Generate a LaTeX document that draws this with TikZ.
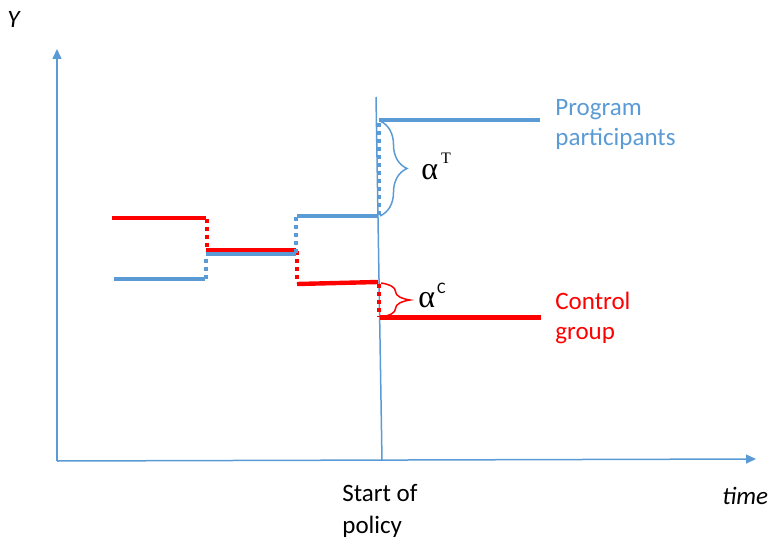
\documentclass[tikz,border=0pt]{standalone}
\usepackage{fontspec}
\setmainfont{Carlito}
\newfontfamily\grk{Liberation Serif}
\usetikzlibrary{arrows.meta,decorations.pathreplacing}
\definecolor{progblue}{HTML}{5B9BD5}
\definecolor{ctrlred}{HTML}{FF0000}

\begin{document}
\begin{tikzpicture}[x=0.5pt, y=-0.5pt,
  lbl/.style={inner sep=0pt, font=\fontsize{12.5}{15}\selectfont},
  itlbl/.style={inner sep=0pt, font=\fontsize{12.5}{15}\selectfont\itshape},
  alab/.style={inner sep=0pt, anchor=base west, font=\grk\fontsize{16}{18}\selectfont},
  axis/.style={draw=progblue, line width=0.75pt, -{Triangle[length=5pt,width=4.5pt]}},
  prog/.style={draw=progblue, line width=2pt},
  ctrl/.style={draw=ctrlred, line width=2.2pt},
  jump/.style={dash pattern=on 2pt off 2pt},
  brc/.style={decorate, decoration={brace, amplitude=#1}, line width=0.75pt}]
\useasboundingbox (0,0) rectangle (769,539);

\coordinate (o) at (57,461);
\coordinate (ytop) at (57,49);
\coordinate (xend) at (756,459);
\coordinate (ps) at (376,97);
\coordinate (pe) at (382,461);

\draw[axis] (o) -- (ytop);
\draw[axis] (o) -- (xend);
\draw[progblue, line width=0.75pt] (ps) -- (pe);

% control group
\draw[ctrl] (112,218) -- (206,218);
\draw[ctrl, jump] (207,219) -- (207,250);
\draw[ctrl] (206,250.5) -- (296,250.5);
\draw[ctrl, jump] (297,251) -- (297,283);
\draw[ctrl] (297,284) -- (378,282);
\draw[ctrl, jump] (379,284) -- (379,317);
\draw[ctrl] (380,317.5) -- (541,317.5);

% program participants
\draw[prog] (114,279) -- (205,279);
\draw[prog, jump] (206,279) -- (206,255);
\draw[prog] (206,254) -- (296,254);
\draw[prog, jump] (296,253) -- (296,217);
\draw[prog] (297,216) -- (377,216);
\draw[prog, jump] (379,215) -- (379,122);
\draw[prog] (379,120.5) -- (540,120.5);

\draw[brc=13.5pt, progblue] (380,121) -- (380,216);
\draw[brc=14.5pt, ctrlred] (381,283) -- (381,317);

\node (aT) [alab] at (421,179.5) {α\hspace{1.5pt}\raisebox{8pt}{\fontsize{8}{9}\selectfont T}};
\node (aC) [alab] at (418,307) {α\hspace{1pt}\raisebox{7pt}{\rmfamily\fontsize{8}{9}\selectfont C}};

\node (y) [itlbl, anchor=base west] at (7,28) {Y};
\node (t) [itlbl, anchor=base west] at (722,504) {time};
\node (sp) [lbl, anchor=north west, align=left, font=\fontsize{12.5}{15.75}\selectfont] at (342,484) {Start of\\policy};
\node (pp) [lbl, anchor=north west, align=left, text=progblue] at (555,99.5) {Program\\participants};
\node (cg) [lbl, anchor=north west, align=left, text=ctrlred] at (555,292) {Control\\group};
\end{tikzpicture}
\end{document}
